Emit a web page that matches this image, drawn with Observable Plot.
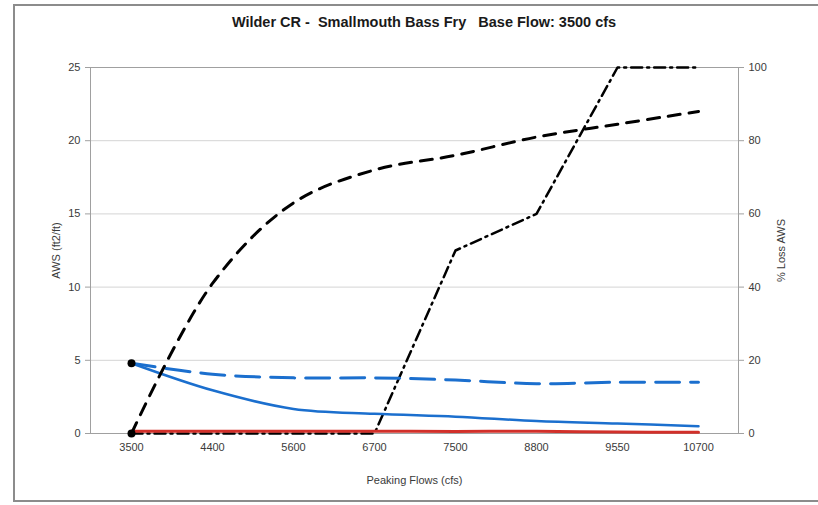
<!DOCTYPE html>
<html>
<head>
<meta charset="utf-8">
<script src="https://cdn.jsdelivr.net/npm/d3@7"></script>
<script src="https://cdn.jsdelivr.net/npm/@observablehq/plot@0.6"></script>
<style>
  body { margin: 0; background: #fff; }
  #wrap { position: relative; width: 818px; height: 505px; overflow: hidden; background: #fff; font-family: "Liberation Sans", Arial, sans-serif; }
  #frame { position: absolute; left: 13px; top: 4px; width: 830px; height: 498px; border: 2px solid #8c8c8c; box-sizing: border-box; pointer-events: none; }
  #title { height: 40px; position: relative; }
  #title span { position: absolute; left: 424px; top: 14px; transform: translateX(-50%); white-space: pre; font-weight: bold; font-size: 14.5px; color: #1a1a1a; letter-spacing: 0px; }
  #chart svg { display: block; }
</style>
</head>
<body>
<div id="wrap">
  <div id="frame"></div>
  <div id="title"><span>Wilder CR -  Smallmouth Bass Fry   Base Flow: 3500 cfs</span></div>
  <div id="chart"></div>
</div>
<script>
// Categories (peaking flows, cfs)
const flows = ["3500", "4400", "5600", "6700", "7500", "8800", "9550", "10700"];
// Left axis series: AWS (ft2/ft)
const awsSolid  = [4.8, 2.95, 1.68, 1.35, 1.15, 0.85, 0.68, 0.5];
const awsDashed = [4.8, 4.05, 3.8, 3.8, 3.65, 3.4, 3.5, 3.5];
const awsRed    = [0.15, 0.15, 0.15, 0.15, 0.14, 0.15, 0.1, 0.09];
// Right axis series: % Loss AWS
const lossDashed  = [0, 41, 63, 72, 76, 81, 84.5, 88];
const lossDashDot = [0, 0, 0, 0, 50, 60, 100, 100];
// Axis ticks
const leftTicks = [0, 5, 10, 15, 20, 25];
const rightTicks = [0, 20, 40, 60, 80, 100];

const RATIO = 4; // 100% on right axis == 25 on left axis
const rows = (vals, scale = 1) => flows.map((f, i) => ({x: f, y: vals[i] / scale}));

const blue = "#1b6fce";
const chart = Plot.plot({
  width: 818,
  height: 465,
  marginLeft: 90,
  marginRight: 80,
  marginTop: 27,
  marginBottom: 72,
  style: { fontFamily: "'Liberation Sans', Arial, sans-serif", fontSize: "11px", color: "#3a3a3a", background: "transparent" },
  x: { type: "point", domain: flows, padding: 0.5 },
  y: { domain: [0, 25] },
  marks: [
    Plot.gridY(leftTicks, { stroke: "#d4d4d4", strokeOpacity: 1 }),
    Plot.frame({ stroke: "#a0a0a0" }),
    Plot.axisY(leftTicks, { anchor: "left", tickSize: 5, tickPadding: 5, stroke: "#a0a0a0", label: "AWS (ft2/ft)", labelAnchor: "center", labelOffset: 38, labelArrow: false }),
    Plot.axisY(rightTicks.map(v => v / RATIO), { anchor: "right", tickSize: 5, tickPadding: 5, stroke: "#a0a0a0", tickFormat: d => String(d * RATIO), label: "% Loss AWS", labelAnchor: "center", labelOffset: 46, labelArrow: false }),
    Plot.axisX({ tickSize: 0, tickPadding: 10, label: "Peaking Flows (cfs)", labelAnchor: "center", labelOffset: 50, labelArrow: false }),
    Plot.line(rows(lossDashDot, RATIO), { x: "x", y: "y", stroke: "#000", strokeWidth: 2.5, strokeDasharray: "11,5,2,5" }),
    Plot.line(rows(awsRed), { x: "x", y: "y", stroke: "#d2302a", strokeWidth: 3, curve: "catmull-rom" }),
    Plot.line(rows(awsDashed), { x: "x", y: "y", stroke: blue, strokeWidth: 3, strokeDasharray: "24,11", curve: "catmull-rom" }),
    Plot.line(rows(awsSolid), { x: "x", y: "y", stroke: blue, strokeWidth: 2.5, curve: "catmull-rom" }),
    Plot.line(rows(lossDashed, RATIO), { x: "x", y: "y", stroke: "#000", strokeWidth: 3, strokeDasharray: "12,9", curve: "catmull-rom" }),
    Plot.dot([{x: flows[0], y: awsSolid[0]}, {x: flows[0], y: lossDashed[0] / RATIO}], { x: "x", y: "y", r: 4, fill: "#000" })
  ]
});
document.getElementById("chart").appendChild(chart);
</script>
</body>
</html>
